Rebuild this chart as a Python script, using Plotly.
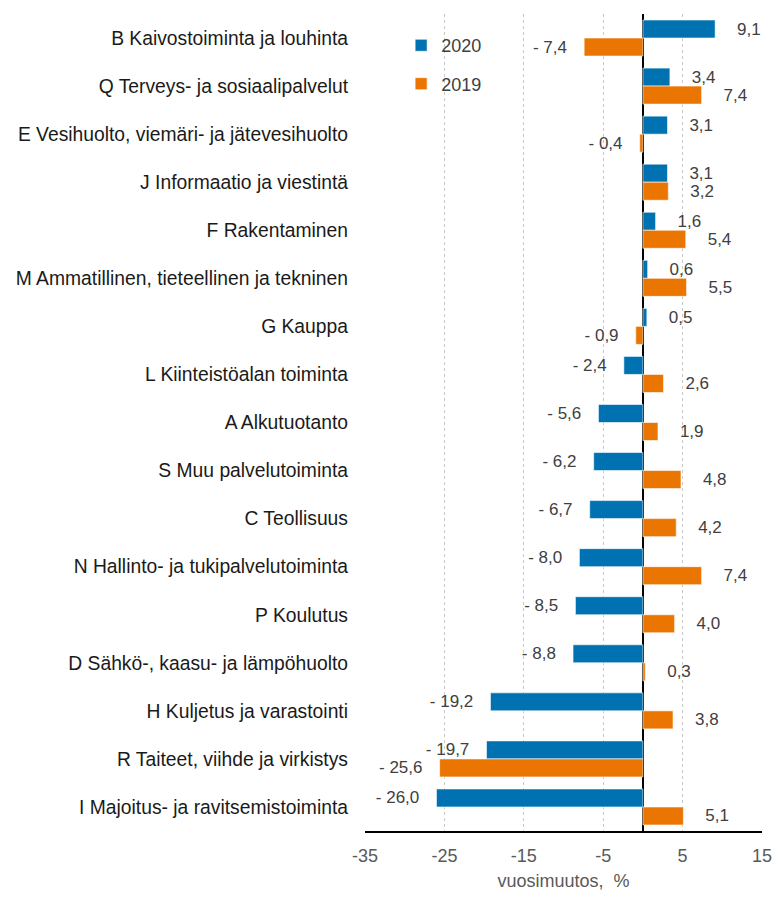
import plotly.graph_objects as go

categories = [
    "B Kaivostoiminta ja louhinta",
    "Q Terveys- ja sosiaalipalvelut",
    "E Vesihuolto, viemäri- ja jätevesihuolto",
    "J Informaatio ja viestintä",
    "F Rakentaminen",
    "M Ammatillinen, tieteellinen ja tekninen",
    "G Kauppa",
    "L Kiinteistöalan toiminta",
    "A Alkutuotanto",
    "S Muu palvelutoiminta",
    "C Teollisuus",
    "N Hallinto- ja tukipalvelutoiminta",
    "P Koulutus",
    "D Sähkö-, kaasu- ja lämpöhuolto",
    "H Kuljetus ja varastointi",
    "R Taiteet, viihde ja virkistys",
    "I Majoitus- ja ravitsemistoiminta",
]
values_2020 = [9.1, 3.4, 3.1, 3.1, 1.6, 0.6, 0.5, -2.4, -5.6, -6.2, -6.7, -8.0, -8.5, -8.8, -19.2, -19.7, -26.0]
values_2019 = [-7.4, 7.4, -0.4, 3.2, 5.4, 5.5, -0.9, 2.6, 1.9, 4.8, 4.2, 7.4, 4.0, 0.3, 3.8, -25.6, 5.1]
tick_vals = [-35, -25, -15, -5, 5, 15]

BLUE = "#0072B2"
ORANGE = "#EA7500"
FONT = "Liberation Sans, Arial, sans-serif"


def label(v):
    # Finnish style: comma decimal, "- " prefix for negatives, some padding
    s = f"{abs(v):.1f}".replace(".", ",")
    if v < 0:
        return f"- {s}   "
    return f"    {s}"


fig = go.Figure()
for name, vals, color in [("2020", values_2020, BLUE), ("2019", values_2019, ORANGE)]:
    fig.add_trace(
        go.Bar(
            y=categories,
            x=vals,
            name=name,
            legendgroup=name,
            orientation="h",
            marker=dict(color=color, line=dict(color="white", width=0.6)),
            text=[label(v) for v in vals],
            textposition="outside",
            constraintext="none",
            cliponaxis=False,
            textfont=dict(family=FONT, size=17, color="#404040"),
            hoverinfo="x+y+name",
        )
    )

fig.update_layout(
    width=784,
    height=900,
    barmode="group",
    bargap=0.25,
    bargroupgap=0,
    plot_bgcolor="white",
    paper_bgcolor="white",
    font=dict(family=FONT, size=19, color="#222222"),
    margin=dict(l=365, r=13, t=14, b=57),
    legend=dict(
        x=0.091,
        y=0.984,
        xanchor="left",
        yanchor="top",
        bgcolor="rgba(0,0,0,0)",
        font=dict(family=FONT, size=18, color="#404040"),
        tracegroupgap=12,
        traceorder="grouped",
        itemwidth=30,
    ),
)

fig.update_xaxes(
    range=[-35, 15],
    tickvals=tick_vals,
    ticktext=[str(t) for t in tick_vals],
    tickfont=dict(family=FONT, size=18, color="#595959"),
    ticklabelstandoff=8,
    showgrid=True,
    gridcolor="#C8C8C8",
    griddash="dot",
    gridwidth=1,
    zeroline=True,
    zerolinecolor="black",
    zerolinewidth=1.5,
    showline=True,
    linecolor="black",
    linewidth=1.5,
    ticks="",
    title=dict(text="vuosimuutos,\u00a0 %", font=dict(family=FONT, size=18, color="#595959"), standoff=9),
)
fig.update_yaxes(
    autorange="reversed",
    showgrid=False,
    ticks="",
    ticklabelstandoff=16,
    tickfont=dict(family=FONT, size=19.3, color="#1a1a1a"),
)

# no body margin and no scrollbars, so the figure sits exactly in the window
fig.write_html(
    "out.html",
    config={"displayModeBar": False},
    post_script="document.body.style.margin='0';"
    "document.body.style.overflow='hidden';"
    "document.documentElement.style.overflow='hidden';",
)
